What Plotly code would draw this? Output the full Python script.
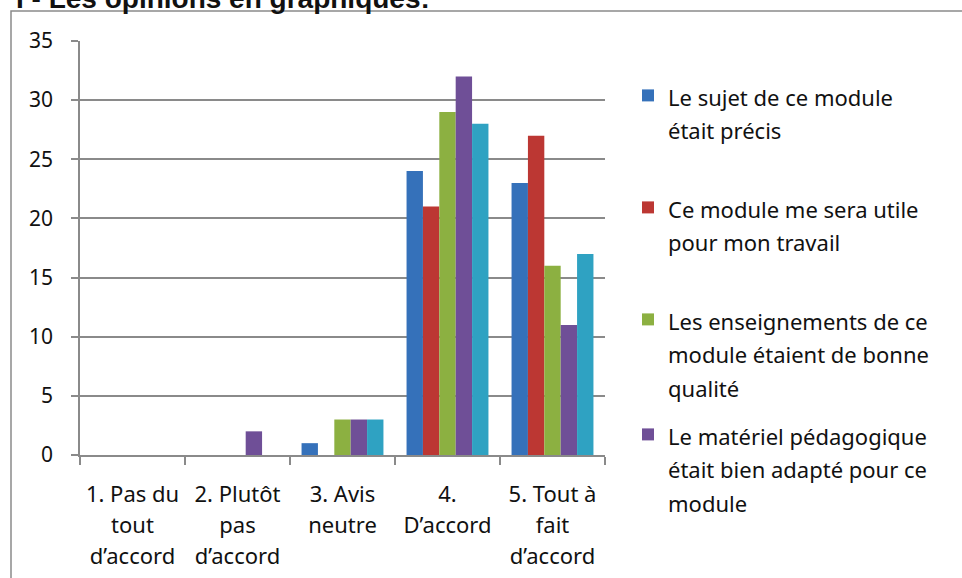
import plotly.graph_objects as go

# categories and answers per statement (counts)
categories = [
    "1. Pas du<br>tout<br>d’accord",
    "2. Plutôt<br>pas<br>d’accord",
    "3. Avis<br>neutre",
    "4.<br>D’accord",
    "5. Tout à<br>fait<br>d’accord",
]
series_names = [
    "Le sujet de ce module<br>était précis",
    "Ce module me sera utile<br>pour mon travail",
    "Les enseignements de ce<br>module étaient de bonne<br>qualité",
    "Le matériel pédagogique<br>était bien adapté pour ce<br>module",
    "Série 5",
]
sujet_precis = [0, 0, 1, 24, 23]
utile_travail = [0, 0, 0, 21, 27]
bonne_qualite = [0, 0, 3, 29, 16]
materiel_adapte = [0, 2, 3, 32, 11]
serie_5 = [0, 0, 3, 28, 17]
y_ticks = [0, 5, 10, 15, 20, 25, 30, 35]

colors = ["#3571BA", "#BC3733", "#8CB041", "#6F4F97", "#2FA2C2"]
values = [sujet_precis, utile_travail, bonne_qualite, materiel_adapte, serie_5]

GREY = "#8a8a8a"
FONT = "Noto Sans"


def sized(text, px=22):
    # wrap every line so the glyphs are smaller than the line pitch
    return "<br>".join(f'<span style="font-size:{px}px">{t}</span>' for t in text.split("<br>"))


fig = go.Figure()
legend_ids = ["legend", "legend2", "legend3", "legend4"]
for i, (name, vals) in enumerate(zip(series_names, values)):
    fig.add_trace(go.Bar(
        x=[sized(c) for c in categories],
        y=vals,
        name=sized(name),
        marker=dict(color=colors[i], line=dict(width=0)),
        showlegend=i < 4,
        legend=legend_ids[i] if i < 4 else None,
    ))

# plot area: x 80..605, y 41..455 px
L, R, T, B = 80, 357, 41, 123
W, H = 962 - L - R, 578 - T - B


def px_x(p):
    return (p - L) / W


def px_y(p):
    return (578 - B - p) / H


legend_common = dict(
    x=px_x(628), xanchor="left", yanchor="top", valign="top",
    font=dict(family=FONT, size=26, color="#111111"),
    bgcolor="rgba(0,0,0,0)", itemclick=False,
)
first_lines = [98, 210, 322, 437]
legends = {}
for lid, yc in zip(legend_ids, first_lines):
    legends[lid] = dict(legend_common, y=px_y(yc - 26))

fig.update_layout(
    width=962, height=578,
    margin=dict(l=L, r=R, t=T, b=B, autoexpand=False),
    paper_bgcolor="white", plot_bgcolor="white",
    barmode="group", bargap=0.22, bargroupgap=0,
    font=dict(family=FONT, color="#111111"),
    **legends,
)
fig.update_xaxes(
    showgrid=False, showline=True, linecolor=GREY, linewidth=1.5,
    ticks="outside", ticklen=8, tickcolor=GREY, tickwidth=1.5,
    tickson="boundaries",
    tickfont=dict(family=FONT, size=24, color="#111111"),
    ticklabelstandoff=16,
)
fig.update_yaxes(
    range=[0, 35], tickvals=y_ticks,
    showgrid=True, gridcolor=GREY, gridwidth=1.5, zeroline=False,
    showline=True, linecolor=GREY, linewidth=1.5,
    ticks="outside", ticklen=7, tickcolor=GREY, tickwidth=1.5,
    tickfont=dict(family=FONT, size=21, color="#111111"),
    ticklabelstandoff=14,
)

# outer chart border (only the top and left edges are in view)
fig.add_shape(type="rect", xref="paper", yref="paper",
              x0=px_x(11), x1=px_x(975), y0=px_y(590), y1=px_y(11),
              line=dict(color=GREY, width=1.5), fillcolor="rgba(0,0,0,0)")

# section heading, mostly cut off at the top of the picture
fig.add_annotation(text="<b>I - Les opinions en graphiques:</b>",
                   xref="paper", yref="paper", x=px_x(14), y=px_y(16),
                   xanchor="left", yanchor="bottom", showarrow=False,
                   font=dict(family="Liberation Sans", size=28, color="#111111"))

# the page body margin would push the figure 8px in
fig.write_html("out.html", config={"displayModeBar": False},
               post_script="document.body.style.margin='0';")
